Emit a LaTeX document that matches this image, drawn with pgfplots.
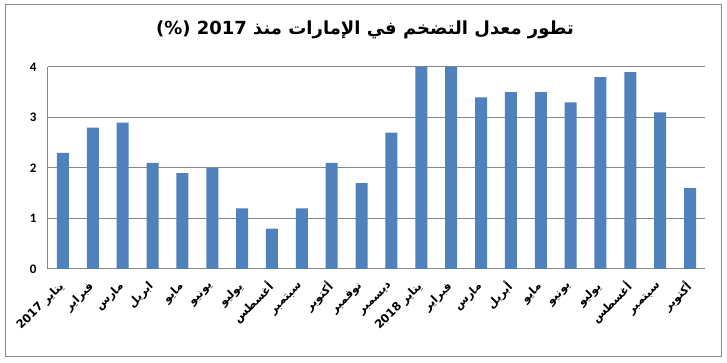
\documentclass[border=0pt]{standalone}
\usepackage{pgfplots}
\pgfplotsset{compat=1.18}
\usepackage{fontspec}
\setmainfont{Carlito}
\newfontfamily\arabicfont[Script=Arabic]{DejaVu Sans}
\TeXXeTstate=1
\definecolor{barblue}{HTML}{4F81BD}
\definecolor{gridgray}{HTML}{868686}
\newcommand{\ar}[1]{{\arabicfont\beginR #1\endR}}
\begin{document}
\begin{tikzpicture}[x=1pt,y=1pt]
\useasboundingbox (0,0) rectangle (727,363);
\fill[white] (0,0) rectangle (727,363);
\draw[gridgray, line width=1pt] (5.5,6.5) rectangle (721.5,358);
\node[anchor=base, inner sep=0pt, font=\fontsize{18}{22}\selectfont\bfseries] at (365,328) {\ar{تطور معدل التضخم في الإمارات منذ \beginL 2017\endL{} \beginL(\%)\endL}};
\begin{axis}[
  at={(48pt,94pt)}, anchor=south west,
  width=657pt, height=202pt, scale only axis,
  ybar, bar width=12pt,
  xmin=-0.5, xmax=21.5, ymin=0, ymax=4,
  ytick={0,1,2,3,4},
  xtick={0,...,21},
  xticklabels={
    \ar{يناير \beginL 2017\endL},\ar{فبراير},\ar{مارس},\ar{ابريل},\ar{مايو},\ar{يونيو},\ar{يوليو},\ar{أغسطس},\ar{سبتمبر},\ar{أكتوبر},\ar{نوفمبر},\ar{ديسمبر},
    \ar{يناير \beginL 2018\endL},\ar{فبراير},\ar{مارس},\ar{أبريل},\ar{مايو},\ar{يونيو},\ar{يوليو},\ar{أغسطس},\ar{سبتمبر},\ar{أكتوبر}},
  xticklabel style={rotate=45, anchor=east, font=\fontsize{11.5}{13}\selectfont\bfseries, inner sep=1pt},
  xticklabel shift=15pt,
  yticklabel style={font=\fontsize{13}{15}\selectfont\bfseries, xshift=-8pt},
  /pgf/number format/assume math mode=true,
  axis lines*=left,
  axis line style={gridgray, line width=1pt},
  ymajorgrids, grid style={gridgray, line width=1pt},
  major tick length=0pt,
  enlargelimits=false,
  clip=false,
]
\addplot[fill=barblue, draw=none] coordinates {
(0,2.3) (1,2.8) (2,2.9) (3,2.1) (4,1.9) (5,2.0) (6,1.2) (7,0.8) (8,1.2) (9,2.1) (10,1.7) (11,2.7)
(12,4.0) (13,4.0) (14,3.4) (15,3.5) (16,3.5) (17,3.3) (18,3.8) (19,3.9) (20,3.1) (21,1.6)};
\end{axis}
\end{tikzpicture}
\end{document}
